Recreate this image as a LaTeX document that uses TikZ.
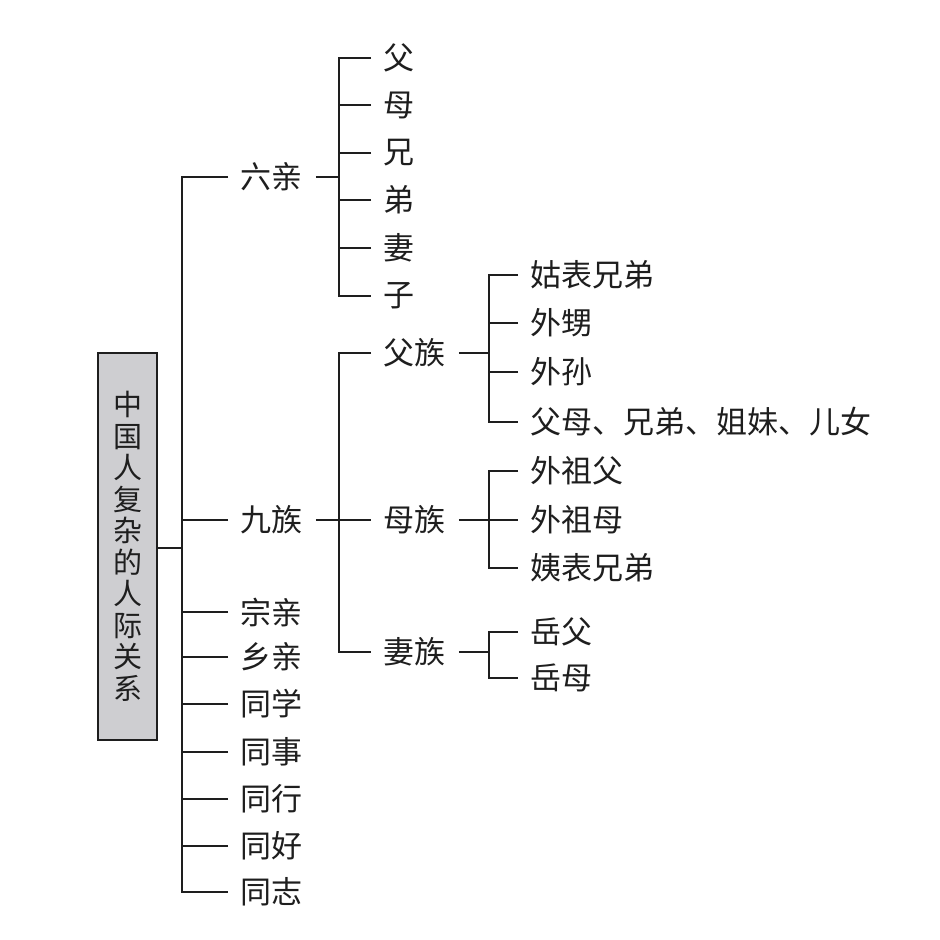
\documentclass[tikz,border=0pt]{standalone}
\usepackage{fontspec}
\setmainfont{Noto Sans CJK SC}
\definecolor{rootgray}{RGB}{206,206,209}
\definecolor{inkgray}{RGB}{30,30,30}
\begin{document}
\begin{tikzpicture}[x=0.5pt,y=-0.5pt,
  line width=0.9pt, draw=inkgray,
  lbl/.style={anchor=west, inner xsep=6pt, inner ysep=0pt, text=inkgray,
    font=\fontsize{15.5pt}{18pt}\selectfont},
  rootbox/.style={draw=inkgray, fill=rootgray, line width=0.8pt, minimum width=29.5pt,
    minimum height=193.5pt, inner sep=0pt, align=center, text=inkgray,
    font=\fontsize{14.5pt}{15.75pt}\selectfont}]
\useasboundingbox (0,0) rectangle (939,940);

% root
\node[rootbox] (root) at (127.5,546.5) {中\\国\\人\\复\\杂\\的\\人\\际\\关\\系};

% level 1
\node[lbl] (liuqin)   at (228,177) {六亲};
\node[lbl] (jiuzu)    at (228,520) {九族};
\node[lbl] (zongqin)  at (228,612) {宗亲};
\node[lbl] (xiangqin) at (228,657) {乡亲};
\node[lbl] (tongxue)  at (228,704) {同学};
\node[lbl] (tongshi)  at (228,752) {同事};
\node[lbl] (tonghang) at (228,799) {同行};
\node[lbl] (tonghao)  at (228,846) {同好};
\node[lbl] (tongzhi)  at (228,892) {同志};

% level 2 (六亲)
\node[lbl] (fu)   at (371,58)  {父};
\node[lbl] (mu)   at (371,105) {母};
\node[lbl] (xiong) at (371,153) {兄};
\node[lbl] (di)   at (371,200) {弟};
\node[lbl] (qi)   at (371,248) {妻};
\node[lbl] (zi)   at (371,296) {子};

% level 2 (九族)
\node[lbl] (fuzu) at (371,353) {父族};
\node[lbl] (muzu) at (371,520) {母族};
\node[lbl] (qizu) at (371,652) {妻族};

% level 3
\node[lbl] (gubiao)  at (518,275) {姑表兄弟};
\node[lbl] (waisheng) at (518,323) {外甥};
\node[lbl] (waisun)  at (518,372) {外孙};
\node[lbl] (fumu)    at (518,422) {父母、兄弟、姐妹、儿女};
\node[lbl] (waizufu) at (518,471) {外祖父};
\node[lbl] (waizumu) at (518,520) {外祖母};
\node[lbl] (yibiao)  at (518,568) {姨表兄弟};
\node[lbl] (yuefu)   at (518,632) {岳父};
\node[lbl] (yuemu)   at (518,678) {岳母};

% spines
\coordinate (spA) at (182,548);
\coordinate (spB) at (339,177);
\coordinate (spC) at (339,520);
\coordinate (spD) at (489,353);
\coordinate (spE) at (489,520);
\coordinate (spF) at (489,652);

% root connectors
\draw (root.east |- spA) -- (spA);
\draw (liuqin.west) -| (spA) |- (tongzhi.west);
\foreach \n in {jiuzu,zongqin,xiangqin,tongxue,tongshi,tonghang,tonghao}
  \draw (\n.west) -- (\n.west -| spA);

% 六亲
\draw (liuqin.east) -- (spB);
\draw (fu.west) -| (spB) |- (zi.west);
\foreach \n in {mu,xiong,di,qi}
  \draw (\n.west) -- (\n.west -| spB);

% 九族
\draw (jiuzu.east) -- (muzu.west);
\draw (fuzu.west) -| (spC) |- (qizu.west);

% 父族
\draw (fuzu.east) -- (spD);
\draw (gubiao.west) -| (spD) |- (fumu.west);
\draw (waisheng.west) -- (waisheng.west -| spD);
\draw (waisun.west) -- (waisun.west -| spD);

% 母族
\draw (muzu.east) -- (waizumu.west);
\draw (waizufu.west) -| (spE) |- (yibiao.west);

% 妻族
\draw (qizu.east) -- (spF);
\draw (yuefu.west) -| (spF) |- (yuemu.west);
\end{tikzpicture}
\end{document}
